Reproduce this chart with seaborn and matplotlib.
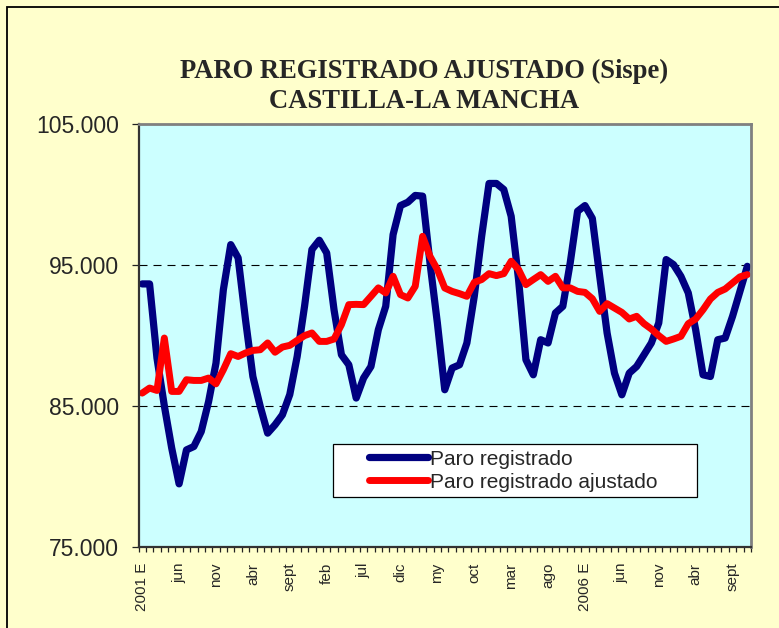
import matplotlib
matplotlib.use("Agg")
import matplotlib.pyplot as plt
from matplotlib.lines import Line2D
from matplotlib.patches import Rectangle
from matplotlib.legend_handler import HandlerLine2D
import seaborn as sns
import numpy as np
import pandas as pd

# monthly series, Jan 2001 .. Nov 2007
paro = [93650, 93650, 88400, 85000, 82000, 79460, 81870, 82110, 83170, 85300,
        88030, 93240, 96440, 95500, 91110, 87080, 84950, 83060, 83650, 84360,
        85800, 88500, 92060, 96090, 96750, 95850, 91800, 88620, 87910, 85550,
        86970, 87790, 90400, 92060, 97150, 99210, 99450, 99930, 99880, 95140,
        90880, 86140, 87680, 87910, 89460, 92770, 97030, 100780, 100780, 100350,
        98450, 93960, 88270, 87200, 89690, 89460, 91590, 92060, 95140, 98810,
        99210, 98300, 94190, 90170, 87320, 85780, 87320, 87790, 88620, 89460,
        90880, 95380, 95020, 94190, 93010, 90400, 87200, 87080, 89690, 89810,
        91350, 93120, 94900]
ajustado = [85900, 86260, 86090, 89810, 86020, 86020, 86850, 86800, 86800, 86970,
            86560, 87560, 88700, 88500, 88750, 88930, 88980, 89460, 88800, 89170,
            89290, 89640, 89980, 90170, 89570, 89570, 89740, 90760, 92180, 92200,
            92180, 92770, 93370, 93010, 94190, 92890, 92650, 93480, 97030, 95610,
            94670, 93360, 93120, 92960, 92770, 93760, 93960, 94380, 94240, 94380,
            95260, 94670, 93600, 93960, 94310, 93830, 94190, 93370, 93370, 93120,
            93050, 92600, 91700, 92250, 91940, 91630, 91160, 91350, 90830, 90450,
            89980, 89570, 89740, 89930, 90830, 91160, 91820, 92580, 93050, 93290,
            93720, 94150, 94310]
x_labels = ["2001 E", "jun", "nov", "abr", "sept", "feb", "jul", "dic", "my",
            "oct", "mar", "ago", "2006 E", "jun", "nov", "abr", "sept"]
y_ticks = [75000, 85000, 95000, 105000]
y_labels = ["75.000", "85.000", "95.000", "105.000"]

df = pd.DataFrame({"mes": np.arange(len(paro)), "paro": paro, "ajustado": ajustado})

sns.set_style("ticks")
plt.rcParams['font.family'] = ['Liberation Sans', 'DejaVu Sans']

fig = plt.figure(figsize=(7.79, 6.28), dpi=100, facecolor="#FFFFCC")
ax = fig.add_axes([138.5/779, 1-546.7/628, 612.5/779, 422.7/628])
ax.set_facecolor("#CCFFFF")

sns.lineplot(data=df, x="mes", y="paro", ax=ax, color="#000080", lw=5.2,
             label="Paro registrado", solid_joinstyle="round", solid_capstyle="round")
sns.lineplot(data=df, x="mes", y="ajustado", ax=ax, color="#FF0000", lw=5,
             label="Paro registrado ajustado", solid_joinstyle="round", solid_capstyle="round")

ax.set_xlim(-0.5, len(paro) - 0.5)
ax.set_ylim(75000, 105000)
ax.set_xticks(np.arange(0, len(paro), 5))
ax.set_xticklabels(x_labels, rotation=90, fontsize=11)
ax.set_xticks(np.arange(-0.5, len(paro), 1), minor=True)
ax.tick_params(axis="x", which="major", length=0, pad=11.5)
ax.tick_params(axis="x", which="minor", length=3.8, width=0.9, color="#222222")
ax.set_yticks(y_ticks)
ax.set_yticklabels(y_labels, fontsize=16.5)
ax.tick_params(axis="y", length=5, width=0.9, pad=9, color="#222222")
ax.set_xlabel("")
ax.set_ylabel("")

ax.set_axisbelow(True)
ax.yaxis.grid(True, color="black", lw=0.8, ls=(0, (7.2, 5.4)))

for s in ["top", "right"]:
    ax.spines[s].set_color("#808080")
    ax.spines[s].set_linewidth(2)
for s in ["left", "bottom"]:
    ax.spines[s].set_color("#333333")
    ax.spines[s].set_linewidth(1.6)

leg = ax.legend(loc="lower left", bbox_to_anchor=(0.3176, 0.1176, 0.5944, 0.13),
                mode="expand", fontsize=15, frameon=True, fancybox=False,
                edgecolor="black", facecolor="white", framealpha=1,
                handlelength=4.3, handletextpad=0.1, labelspacing=0.2,
                borderpad=0.25, borderaxespad=0,
                handler_map={Line2D: HandlerLine2D(xpad=1.5)})
leg.get_frame().set_linewidth(0.9)

fig.text(424/779, 1-86.5/628, "PARO REGISTRADO AJUSTADO (Sispe)\nCASTILLA-LA MANCHA",
         ha="center", va="center", fontsize=19.2, fontweight="bold",
         family=["Liberation Serif", "DejaVu Serif"], linespacing=1.27)

fig.add_artist(Rectangle((7/779, -0.1), 1.2, 1.1 - 7/628, transform=fig.transFigure,
                         fill=False, edgecolor="black", lw=1.3))

fig.savefig("out.png", dpi=100, facecolor=fig.get_facecolor())
